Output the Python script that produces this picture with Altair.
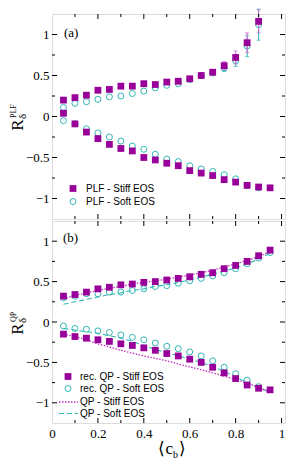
import altair as alt
import pandas as pd

# ---------------- data ----------------
x_all = [0.05, 0.10, 0.15, 0.20, 0.25, 0.30, 0.35, 0.40, 0.45, 0.50,
         0.55, 0.60, 0.65, 0.70, 0.75, 0.80, 0.85, 0.90, 0.95]
x_to90 = x_all[:18]

# panel (a) PLF
a_stiff_up = [0.20, 0.23, 0.26, 0.32, 0.33, 0.37, 0.37, 0.40, 0.39, 0.42,
              0.43, 0.46, 0.50, 0.54, 0.62, 0.72, 0.90, 1.16]
a_stiff_up_err = [0, 0, 0, 0, 0, 0, 0, 0, 0, 0, 0, 0.01, 0.01, 0.02, 0.05, 0.08, 0.12, 0.14]
a_soft_up = [0.11, 0.16, 0.18, 0.21, 0.24, 0.25, 0.28, 0.31, 0.35, 0.38,
             0.40, 0.45, 0.50, 0.53, 0.59, 0.68, 0.86, 1.12]
a_soft_up_err = [0, 0, 0, 0, 0, 0, 0, 0, 0, 0, 0, 0.01, 0.01, 0.02, 0.04, 0.07, 0.13, 0.19]
a_stiff_low = [0.04, -0.09, -0.19, -0.27, -0.34, -0.39, -0.42, -0.50, -0.53, -0.57,
               -0.60, -0.66, -0.69, -0.72, -0.77, -0.80, -0.84, -0.86, -0.87]
a_soft_low = [-0.05, -0.09, -0.15, -0.20, -0.25, -0.30, -0.36, -0.40, -0.46, -0.52,
              -0.55, -0.60, -0.64, -0.67, -0.71, -0.76, -0.84, -0.87]

# panel (b) QP
b_stiff_up = [0.32, 0.34, 0.37, 0.41, 0.43, 0.46, 0.47, 0.49, 0.50, 0.52,
              0.54, 0.56, 0.59, 0.61, 0.66, 0.70, 0.75, 0.82, 0.89]
b_soft_up = [0.30, 0.32, 0.35, 0.35, 0.37, 0.37, 0.39, 0.41, 0.44, 0.45,
             0.48, 0.51, 0.54, 0.57, 0.61, 0.66, 0.72, 0.79, 0.86]
b_stiff_low = [-0.15, -0.18, -0.20, -0.22, -0.24, -0.27, -0.29, -0.32, -0.35, -0.39,
               -0.42, -0.46, -0.50, -0.56, -0.63, -0.70, -0.78, -0.82, -0.84]
b_soft_low = [-0.05, -0.08, -0.09, -0.11, -0.13, -0.16, -0.19, -0.22, -0.26, -0.30,
              -0.33, -0.37, -0.42, -0.48, -0.56, -0.64, -0.72, -0.80]

qp_stiff_up = [0.29, 0.33, 0.36, 0.39, 0.42, 0.44, 0.47, 0.49, 0.51, 0.53,
               0.555, 0.58, 0.61, 0.64, 0.68, 0.72, 0.76, 0.81, 0.87]
qp_soft_up = [0.22, 0.25, 0.28, 0.31, 0.34, 0.36, 0.39, 0.41, 0.44, 0.46,
              0.49, 0.52, 0.555, 0.59, 0.63, 0.67, 0.72, 0.78, 0.85]
qp_stiff_low = [-0.15, -0.18, -0.22, -0.27, -0.31, -0.35, -0.385, -0.42, -0.45, -0.48,
                -0.52, -0.555, -0.59, -0.63, -0.67, -0.71, -0.76, -0.81, -0.87]
qp_soft_low = [-0.08, -0.10, -0.12, -0.14, -0.17, -0.20, -0.24, -0.29, -0.34, -0.38,
               -0.42, -0.46, -0.50, -0.55, -0.61, -0.68, -0.75, -0.82, -0.86]

legend_a = ["PLF - Stiff EOS", "PLF - Soft EOS"]
legend_b = ["rec. QP - Stiff EOS", "rec. QP - Soft EOS", "QP - Stiff EOS", "QP - Soft EOS"]

x_tick_values = [0, 0.2, 0.4, 0.6, 0.8, 1.0]
x_minor = [0.1, 0.3, 0.5, 0.7, 0.9]
y_tick_values = [-1, -0.5, 0, 0.5, 1]
y_minor = [-0.75, -0.25, 0.25, 0.75]

# ---------------- style ----------------
W = 233
HA = 205
HB = 202
MAG = "#990099"
MAG_LIGHT = "#d070d0"
MAG_LINE = "#c030c0"
CYA = "#33b5b5"
SERIF = "Liberation Serif"
SANS = "Liberation Sans"

xs = alt.Scale(domain=[0, 1.015], nice=False, zero=False)
ys = alt.Scale(domain=[-1.25, 1.25], nice=False, zero=False)


def X(show):
    if show:
        return alt.X("x:Q", scale=xs, axis=alt.Axis(
            values=x_tick_values, format="~g", ticks=False, domain=False, grid=False,
            title=None, labelFont=SERIF, labelFontSize=13, labelPadding=4,
            labelColor="black", labelFlush=False))
    return alt.X("x:Q", scale=xs, axis=None)


def Y(field="y"):
    return alt.Y(f"{field}:Q", scale=ys, axis=alt.Axis(
        values=y_tick_values, format="~g", ticks=False, domain=False, grid=False,
        title=None, labelFont=SERIF, labelFontSize=13, labelPadding=3,
        labelColor="black", labelFlush=False))


def pts(xv, yv, kind, show):
    df = pd.DataFrame({"x": xv, "y": yv})
    if kind == "sq":
        m = alt.Chart(df).mark_point(shape="square", filled=True, size=46, color=MAG, opacity=1)
    else:
        m = alt.Chart(df).mark_point(shape="circle", filled=False, size=36, color=CYA,
                                     strokeWidth=1, opacity=1)
    return m.encode(x=X(show), y=Y())


def errs(xv, yv, ev, color, show):
    df = pd.DataFrame({"x": xv, "y": yv, "e": ev})
    df = df[df["e"] > 0].copy()
    df["lo"] = df["y"] - df["e"]
    df["hi"] = df["y"] + df["e"]
    base = alt.Chart(df)
    bar = base.mark_rule(color=color, strokeWidth=1.1).encode(
        x=X(show), y=Y("lo"), y2="hi:Q")
    cap_lo = base.mark_tick(orient="horizontal", color=color, size=4, thickness=1).encode(
        x=X(show), y=Y("lo"))
    cap_hi = base.mark_tick(orient="horizontal", color=color, size=4, thickness=1).encode(
        x=X(show), y=Y("hi"))
    return [bar, cap_lo, cap_hi]


def ticks(H, show):
    layers = []
    for vals, L in ((y_tick_values, 5), (y_minor, 3)):
        df = pd.DataFrame({"y": vals})
        layers.append(alt.Chart(df).mark_rule(color="black", strokeWidth=1).encode(
            y=Y(), x=alt.value(0), x2=alt.value(L)))
        layers.append(alt.Chart(df).mark_rule(color="black", strokeWidth=1).encode(
            y=Y(), x=alt.value(W - L), x2=alt.value(W)))
    for vals, L in ((x_tick_values[1:], 5), (x_minor, 3)):
        df = pd.DataFrame({"x": vals})
        layers.append(alt.Chart(df).mark_rule(color="black", strokeWidth=1).encode(
            x=X(show), y=alt.value(0), y2=alt.value(L)))
        layers.append(alt.Chart(df).mark_rule(color="black", strokeWidth=1).encode(
            x=X(show), y=alt.value(H - L), y2=alt.value(H)))
    return layers


def txt(t, x, y, size, font, align="left", baseline="middle", angle=0):
    kw = dict(align=align, baseline=baseline, fontSize=size, font=font, color="black")
    if angle:
        kw["angle"] = angle
    return alt.Chart(pd.DataFrame({"t": [t]})).mark_text(**kw).encode(
        x=alt.value(x), y=alt.value(y), text="t:N")


def ytitle(sup, yc):
    return [
        txt("R", -34, yc, 17, SERIF, align="center", angle=270),
        txt("δ", -29, yc - 6, 11, SERIF, align="left", angle=270),
        txt(sup, -38, yc - 7, 8, SERIF, align="left", angle=270),
    ]


# ---------------- panel (a) ----------------
la = []
la.append(pts(x_to90, a_soft_up, "ci", False))
la += errs(x_to90, a_soft_up, a_soft_up_err, CYA, False)
la += errs(x_to90, a_stiff_up, a_stiff_up_err, MAG_LIGHT, False)
la.append(pts(x_to90, a_soft_low, "ci", False))
la.append(pts(x_to90, a_stiff_up, "sq", False))
la.append(pts(x_all, a_stiff_low, "sq", False))
la += ticks(HA, False)
la.append(txt("(a)", 12, 19, 13, SERIF))
la.append(alt.Chart(pd.DataFrame({"t": [legend_a[0]]})).mark_point(
    shape="square", filled=True, size=46, color=MAG, opacity=1).encode(
    x=alt.value(21), y=alt.value(174.5)))
la.append(alt.Chart(pd.DataFrame({"t": [legend_a[1]]})).mark_point(
    shape="circle", filled=False, size=36, color=CYA, strokeWidth=1, opacity=1).encode(
    x=alt.value(21), y=alt.value(187.5)))
la.append(txt(legend_a[0], 34, 174.5, 10, SANS))
la.append(txt(legend_a[1], 34, 187.5, 10, SANS))
la += ytitle("PLF", 111)
panel_a = alt.layer(*la).properties(width=W, height=HA)

# ---------------- panel (b) ----------------
lines = pd.DataFrame({
    "x": x_all * 4,
    "y": qp_stiff_up + qp_stiff_low + qp_soft_up + qp_soft_low,
    "branch": ["su"] * 19 + ["sl"] * 19 + ["fu"] * 19 + ["fl"] * 19,
})
lb = []
lb.append(alt.Chart(lines[lines["branch"].isin(["fu", "fl"])]).mark_line(
    color=CYA, strokeWidth=1.1, strokeDash=[5, 3]).encode(x=X(True), y=Y(), detail="branch:N"))
lb.append(alt.Chart(lines[lines["branch"].isin(["su", "sl"])]).mark_line(
    color=MAG_LINE, strokeWidth=1.3, strokeDash=[1.5, 1.5]).encode(x=X(True), y=Y(), detail="branch:N"))
lb.append(pts(x_all, b_soft_up, "ci", True))
lb.append(pts(x_to90, b_soft_low, "ci", True))
lb.append(pts(x_all, b_stiff_up, "sq", True))
lb.append(pts(x_all, b_stiff_low, "sq", True))
lb += ticks(HB, True)
lb.append(txt("(b)", 11, 17, 13, SERIF))
lb.append(alt.Chart(pd.DataFrame({"t": [legend_b[0]]})).mark_point(
    shape="square", filled=True, size=46, color=MAG, opacity=1).encode(
    x=alt.value(16), y=alt.value(155.5)))
lb.append(alt.Chart(pd.DataFrame({"t": [legend_b[1]]})).mark_point(
    shape="circle", filled=False, size=36, color=CYA, strokeWidth=1, opacity=1).encode(
    x=alt.value(16), y=alt.value(167.5)))
lb.append(alt.Chart(pd.DataFrame({"t": [legend_b[2]]})).mark_rule(
    color=MAG_LINE, strokeWidth=1.3, strokeDash=[1.5, 1.5]).encode(
    x=alt.value(7), x2=alt.value(26), y=alt.value(181)))
lb.append(alt.Chart(pd.DataFrame({"t": [legend_b[3]]})).mark_rule(
    color=CYA, strokeWidth=1.1, strokeDash=[5, 3]).encode(
    x=alt.value(7), x2=alt.value(26), y=alt.value(192.5)))
for i, yy in enumerate([155.5, 167.5, 181, 192.5]):
    lb.append(txt(legend_b[i], 28, yy, 10, SANS))
lb += ytitle("QP", 108)
# x title <c_b>
lb.append(txt("⟨c", 121, HB + 31, 17, SERIF, align="right", baseline="alphabetic"))
lb.append(txt("b", 121, HB + 35, 10, SERIF, align="left", baseline="alphabetic"))
lb.append(txt("⟩", 127, HB + 31, 17, SERIF, align="left", baseline="alphabetic"))
panel_b = alt.layer(*lb).properties(width=W, height=HB)

chart = alt.vconcat(panel_a, panel_b, spacing=0).properties(
    padding={"left": 0, "top": 0, "right": 0, "bottom": 0}
).configure_view(stroke="black", strokeWidth=1.2).configure(background="white")

chart.save("out.html", embed_options={"renderer": "svg", "actions": False})
